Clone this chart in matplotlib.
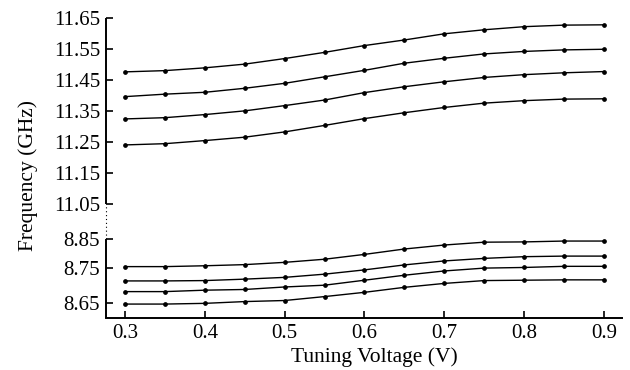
import numpy as np
import matplotlib
matplotlib.use('Agg')
import matplotlib.pyplot as plt

# tuning voltage (V)
voltage = [0.30, 0.35, 0.40, 0.45, 0.50, 0.55, 0.60, 0.65, 0.70, 0.75, 0.80, 0.85, 0.90]

# upper band (GHz)
upper_1 = [11.477, 11.481, 11.490, 11.502, 11.520, 11.540, 11.562, 11.580, 11.600, 11.613, 11.623, 11.628, 11.629]
upper_2 = [11.397, 11.405, 11.411, 11.424, 11.440, 11.461, 11.482, 11.505, 11.521, 11.535, 11.543, 11.548, 11.550]
upper_3 = [11.325, 11.329, 11.339, 11.351, 11.368, 11.386, 11.410, 11.429, 11.445, 11.459, 11.468, 11.474, 11.478]
upper_4 = [11.241, 11.245, 11.255, 11.266, 11.283, 11.304, 11.326, 11.345, 11.362, 11.376, 11.384, 11.389, 11.390]

# lower band (GHz)
lower_1 = [8.754, 8.754, 8.757, 8.761, 8.769, 8.780, 8.797, 8.816, 8.830, 8.840, 8.841, 8.844, 8.844]
lower_2 = [8.713, 8.713, 8.714, 8.718, 8.723, 8.732, 8.744, 8.760, 8.774, 8.783, 8.789, 8.791, 8.791]
lower_3 = [8.683, 8.683, 8.687, 8.689, 8.696, 8.701, 8.715, 8.729, 8.741, 8.749, 8.751, 8.755, 8.755]
lower_4 = [8.648, 8.648, 8.650, 8.655, 8.658, 8.669, 8.681, 8.695, 8.706, 8.714, 8.715, 8.716, 8.716]

yticks = [8.65, 8.75, 8.85, 11.05, 11.15, 11.25, 11.35, 11.45, 11.55, 11.65]
xticks = [0.3, 0.4, 0.5, 0.6, 0.7, 0.8, 0.9]

# piecewise linear scale with a break between 8.85 and 11.05
knot_val = np.array([8.0, 8.65, 8.75, 8.85, 11.05, 11.65, 12.5])
knot_pos = np.array([-534.7, -303.3, -267.7, -239.3, -204.0, -18.3, 244.8])


def forward(v):
    return np.interp(v, knot_val, knot_pos)


def inverse(p):
    return np.interp(p, knot_pos, knot_val)


def main():
    plt.rcParams['font.family'] = ['Liberation Serif', 'DejaVu Serif']

    fig = plt.figure(figsize=(6.3, 3.7), dpi=100)
    ax = fig.add_axes([0.1675, 0.1397, 0.8198, 0.8108])
    ax.set_yscale('function', functions=(forward, inverse))

    for series in (upper_1, upper_2, upper_3, upper_4, lower_1, lower_2, lower_3, lower_4):
        ax.plot(voltage, series, color='black', lw=1.0, marker='o', ms=2.4)

    ax.set_xlim(0.2756, 0.9226)
    ax.set_ylim(8.608, 11.65)
    ax.set_xticks(xticks)
    ax.set_xticklabels([f'{t:.1f}' for t in xticks])
    ax.set_yticks(yticks)
    ax.set_yticklabels([f'{t:.2f}' for t in yticks])
    ax.minorticks_off()

    ax.tick_params(direction='in', length=5, width=1.2, labelsize=15, pad=4)

    for side in ('top', 'right', 'left'):
        ax.spines[side].set_visible(False)
    ax.spines['bottom'].set_linewidth(1.4)

    # left spine drawn in pieces, dotted across the break
    tr = ax.get_yaxis_transform()
    ybot = ax.get_ylim()[0]
    ax.plot([0, 0], [ybot, 8.85], color='black', lw=1.4, transform=tr, clip_on=False, solid_capstyle='butt')
    ax.plot([0, 0], [8.85, 11.05], color='black', lw=0.8, ls=(0, (1, 2.5)), transform=tr, clip_on=False)
    ax.plot([0, 0], [11.05, 11.65], color='black', lw=1.4, transform=tr, clip_on=False, solid_capstyle='butt')

    ax.set_xlabel('Tuning Voltage (V)', fontsize=15.5)
    ax.set_ylabel('Frequency (GHz)', fontsize=15.5)
    ax.xaxis.set_label_coords(0.521, -0.095)
    ax.yaxis.set_label_coords(-0.13, 0.477)

    fig.savefig('out.png', dpi=100)


if __name__ == '__main__':
    main()
